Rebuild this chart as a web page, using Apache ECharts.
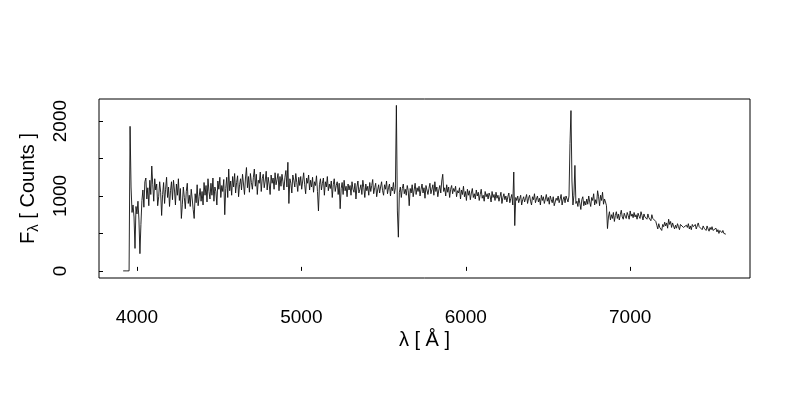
<!DOCTYPE html>
<html>
<head>
<meta charset="utf-8">
<script src="https://cdn.jsdelivr.net/npm/echarts@6/dist/echarts.min.js"></script>
<style>html,body{margin:0;padding:0;background:#fff}#chart{width:800px;height:400px}</style>
</head>
<body>
<div id="chart"></div>
<script>
// Wavelength grid of the spectrum (Å)
const lambdaStart = 3916;
const lambdaStep = 6;

// Flux samples (counts), in wavelength order
const fluxBlue = [
  0,0,0,0,0,0,0,1930,1120,780,
  880,720,300,860,760,930,680,230,620,940,
  1080,850,1190,1240,960,1110,870,1210,1020,1400,
  1150,930,1230,1080,1160,870,990,1190,1050,740,
  1020,1180,900,1090,1250,980,1120,860,1070,1190,
  950,1210,1080,880,1160,1010,1230,940,1100,700,
  890,1120,980,830,1060,1170,900,1010,860,1090,
  960,820,700,1030,910,1150,870,990,1100,930,
  1060,880,1180,1010,1140,920,1230,1060,960,1170,
  1010,1240,930,1120,1060,880,1200,1090,1250,980
];
const fluxGreen = [
  1140,1060,1220,750,1100,1250,980,1360,1070,1200,
  1010,1260,1120,1300,1040,1180,1270,990,1150,1230,
  1080,1290,1160,1020,1240,1380,1110,1260,1050,1300,
  1180,1090,1250,1360,1130,1290,1020,1210,1170,1320,
  1060,1230,1290,1110,1200,1330,1080,1250,1160,1020,
  1280,1170,1240,1090,1310,1150,1220,1300,1070,1260,
  1130,1290,1190,1080,1250,1340,1120,1450,900,1230,
  1170,1040,1280,1210,1120,1300,1180,1060,1250,1140,
  1260,1090,1200,1310,1150,1030,1240,1170,1280,1080,
  1210,1120,1250,1050,1190,1140,1270,1060,800,1150,
  1230,1080,1170,1240,1010,1190,1120,1260,1070,1160,
  1100,1200,980,1150,1230,1060,1140,1190,1020,1170,
  830,1100,1180,1020,1210,1070,1130,990,1160,1080,
  1140,1010,1190,1090,1050,1170,960,1120,1200,1040,
  1090,1150,1020,1210,1110,980,1160,1070,1130,1010,
  1180,1060,1140,1220,1030,1110,1170,990,1080,1150,
  1040,1120,1190,1070,1010,1150,1090,1200,1030,1110,
  1160,1000,1120,1070,1180,1030,1110,2210,800,450
];
const fluxOrange = [
  1050,1120,980,1100,1160,1030,1090,1010,1140,1070,
  870,1100,1040,1150,990,1080,1170,1020,1110,1060,
  1130,1000,1090,1160,1040,1110,970,1140,1080,1020,
  1100,1170,1030,1090,1150,1010,1190,1060,1120,990,
  1080,1140,1040,1200,1290,1060,1110,1000,1150,1050,
  1120,980,1090,1140,1030,1100,1060,1130,990,1070,
  1040,1110,960,1080,1020,1130,990,1060,940,1090,
  1010,1070,950,1040,1100,980,1030,960,1080,1000,
  1050,940,1020,1090,970,1010,930,1060,990,1030,
  960,1040,1000,920,1060,980,1020,940,1050,970,
  1010,930,990,1050,900,980,1030,950,1000,920,
  990,1040,910,970,1020,880,1320,605,980,940,
  1000,910,960,1010,880,950,990,920,970,1020,
  900,970,1010,930,880,990,950,1030,910,960,
  1000,920,970,880,1010,940,990,900,960,1020,
  930,980,890,1000,950,910,990,870,850,970,
  940,1000,910,960,1020,880,950,990,910,1000,
  960,920,1000,1700,2140,1200,880,1010,1408,900
];
const fluxRed = [
  930,860,970,900,820,950,990,870,930,880,
  960,890,1000,920,860,980,940,1030,880,950,
  900,1070,990,870,1010,940,1050,890,960,920,
  870,565,720,790,680,750,700,780,660,740,
  790,700,760,680,750,810,720,690,770,730,
  700,780,740,690,800,730,760,710,780,720,
  750,690,770,730,700,790,740,680,760,720,
  740,690,760,710,730,670,750,700,690,720,
  660,610,560,630,580,600,540,620,590,650,
  600,640,570,690,620,660,580,640,600,560,
  610,570,630,590,550,620,600,640,580,600,
  560,610,580,630,560,600,550,620,590,570,
  620,560,600,640,590,570,610,550,600,570,
  590,540,600,560,530,580,550,590,540,560,
  530,570,520,550,500,540,560,510,540,500,
  520,490
];

// Axis ticks and labels
const xTicks = [4000, 5000, 6000, 7000];
const yTicks = [0, 500, 1000, 1500, 2000];
const yLabels = [0, 1000, 2000];

const flux = [].concat(fluxBlue, fluxGreen, fluxOrange, fluxRed);
const spectrum = flux.map((f, i) => [lambdaStart + i * lambdaStep, f]);

const FONT = '"Liberation Sans", Arial, Helvetica, sans-serif';
const chart = echarts.init(document.getElementById('chart'), null, {renderer: 'canvas'});
chart.setOption({
  animation: false,
  backgroundColor: '#fff',
  grid: {left: 99, right: 50, top: 99, bottom: 122, show: true, borderColor: '#000', borderWidth: 1, backgroundColor: 'transparent'},
  xAxis: {
    type: 'value', min: 3769, max: 7729,
    axisLine: {show: false},
    splitLine: {show: false},
    axisTick: {show: true, inside: true, length: 4, customValues: xTicks, lineStyle: {color: '#000', width: 1}},
    axisLabel: {customValues: xTicks, margin: 30, fontSize: 19, color: '#000', fontFamily: FONT, formatter: v => String(v)},
    name: 'λ [ Å ]', nameLocation: 'middle', nameGap: 52,
    nameTextStyle: {fontSize: 20, color: '#000', fontFamily: FONT}
  },
  yAxis: {
    type: 'value', min: -95, max: 2295,
    axisLine: {show: false},
    splitLine: {show: false},
    axisTick: {show: true, inside: true, length: 4, customValues: yTicks, lineStyle: {color: '#000', width: 1}},
    axisLabel: {customValues: yLabels, rotate: 90, margin: 29, fontSize: 19, color: '#000', fontFamily: FONT, formatter: v => String(v)},
    name: '{f|F}{s|λ}{f| [ Counts ]}', nameLocation: 'middle', nameRotate: 90, nameGap: 58,
    nameTextStyle: {
      color: '#000', fontFamily: FONT, fontSize: 20,
      rich: {
        f: {fontSize: 20, color: '#000', fontFamily: FONT},
        s: {fontSize: 15, color: '#000', fontFamily: FONT, padding: [11, 0, 0, 0]}
      }
    }
  },
  series: [{
    type: 'line',
    data: spectrum,
    showSymbol: false,
    symbol: 'none',
    sampling: null,
    lineStyle: {color: '#111', width: 0.9},
    clip: true
  }]
});
</script>
</body>
</html>
